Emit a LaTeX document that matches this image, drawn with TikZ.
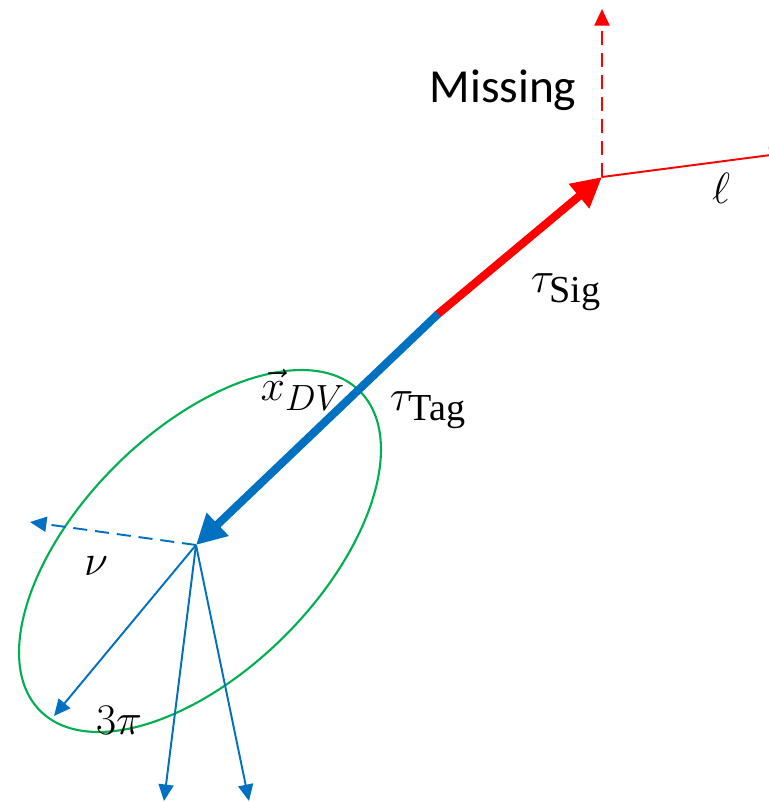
\documentclass[tikz,border=0pt]{standalone}
\usepackage{amsmath,amssymb}
\usepackage{fontspec}
\setmainfont{Carlito}
\newfontfamily\subserif{Liberation Serif}
\usepackage{xcolor}
\usepackage{tikz}
\usetikzlibrary{arrows.meta,positioning,calc}
\definecolor{tagblue}{HTML}{0070C0}
\definecolor{sigred}{HTML}{FF0000}
\definecolor{roigreen}{HTML}{00B050}
\newcommand{\subtxt}[1]{\text{\subserif #1}}

\begin{document}
\begin{tikzpicture}[x=0.2mm,y=-0.2mm,every node/.style={font=\fontsize{27}{30}\selectfont,inner sep=0pt},fat/.style={line width=4.6pt,-{Triangle[length=6mm,width=6mm]}},thin/.style={line width=1.1pt,-{Triangle[length=3.3mm,width=3mm]}},lbl/.style={anchor=center},mlbl/.style={anchor=center,font=\fontsize{31}{34}\selectfont}]
\useasboundingbox (0,0) rectangle (769,802);
\coordinate (mid) at (438,314);\coordinate (sig) at (602,177);\coordinate (tag) at (196,545);
\coordinate (miss) at (602,9);\coordinate (lep) at (786,153);\coordinate (nu) at (30,522);
\coordinate (pia) at (54,716);\coordinate (pib) at (164,801);\coordinate (pic) at (249,801);
% region of the tag side
\draw[roigreen,line width=1.2pt,rotate around={45:(200,551)}] (200,551) ellipse [x radius=226,y radius=120];
\draw[fat,sigred,shorten <=-1pt] (mid) -- (sig);
\draw[fat,tagblue] (mid) -- (tag);
\draw[thin,sigred,dashed,dash pattern=on 8pt off 4.5pt] (sig) -- (miss);
\draw[thin,sigred] (sig) -- (lep);
\draw[thin,tagblue,dashed,dash pattern=on 8pt off 4.5pt] (tag) -- (nu);
\draw[thin,tagblue] (tag) -- (pia);\draw[thin,tagblue] (tag) -- (pib);\draw[thin,tagblue] (tag) -- (pic);
\node[lbl] (missl) at (503,90) {Missing};
\node[mlbl] (lepl) at (721,188) {$\ell$};
\node[mlbl] (sigl) at (566,292) {$\tau_{\subtxt{Sig}}$};
\node[mlbl] (tagl) at (428,410) {$\tau_{\subtxt{Tag}}$};
\node[mlbl] (dvl) at (303,390) {$\vec{x}_{DV}$};
\node[mlbl] (nul) at (96,566) {$\nu$};
\node[mlbl] (pil) at (119,720) {$3\pi$};
\end{tikzpicture}
\end{document}
